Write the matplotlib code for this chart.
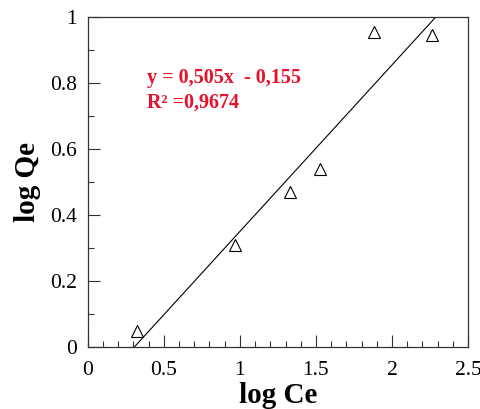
import numpy as np
import matplotlib.pyplot as plt
from matplotlib.ticker import MultipleLocator

import matplotlib
matplotlib.rcParams['font.family'] = 'Liberation Serif'

log_ce = [0.32, 0.97, 1.33, 1.53, 1.88, 2.26]
log_qe = [0.048, 0.31, 0.47, 0.54, 0.955, 0.945]
slope = 0.505
intercept = -0.155
eq_text = "y = 0,505x  - 0,155"
r2_text = "R\u00b2 =0,9674"

fig = plt.figure(figsize=(4.8, 4.09), dpi=100)
ax = fig.add_axes([0.183, 0.152, 0.792, 0.806])

ax.plot(log_ce, log_qe, linestyle='none', marker='^', markersize=9,
        markerfacecolor='none', markeredgecolor='black', markeredgewidth=0.8)

x_fit = np.array([-intercept / slope, (1 - intercept) / slope])
ax.plot(x_fit, slope * x_fit + intercept, color='black', linewidth=0.8)

ax.text(0.155, 0.80, eq_text, transform=ax.transAxes, color='#e8102a',
        fontsize=14.5, fontweight='bold')
ax.text(0.155, 0.727, r2_text, transform=ax.transAxes, color='#e8102a',
        fontsize=14.5, fontweight='bold')

ax.set_xlim(0, 2.5)
ax.set_ylim(0, 1)
ax.xaxis.set_minor_locator(MultipleLocator(0.1))
ax.yaxis.set_minor_locator(MultipleLocator(0.1))
ax.set_xticks([0, 0.5, 1, 1.5, 2, 2.5], ['0', '0.5', '1', '1.5', '2', '2.5'])
ax.set_yticks([0, 0.2, 0.4, 0.6, 0.8, 1], ['0', '0.2', '0.4', '0.6', '0.8', '1'])
ax.tick_params(axis='both', which='both', direction='in', top=False, right=False,
               labelsize=15.5, width=0.8, color='#333333')
ax.tick_params(axis='both', which='major', length=8.5)
ax.tick_params(axis='both', which='minor', length=4.5)
ax.tick_params(axis='x', which='major', pad=10)
ax.tick_params(axis='y', which='major', pad=8)

for spine in ax.spines.values():
    spine.set_linewidth(0.9)
    spine.set_color('#333333')

ax.set_xlabel('log Ce', fontsize=21, fontweight='bold', labelpad=2)
ax.set_ylabel('log Qe', fontsize=21, fontweight='bold', labelpad=6)

plt.savefig('out.png', dpi=100)
